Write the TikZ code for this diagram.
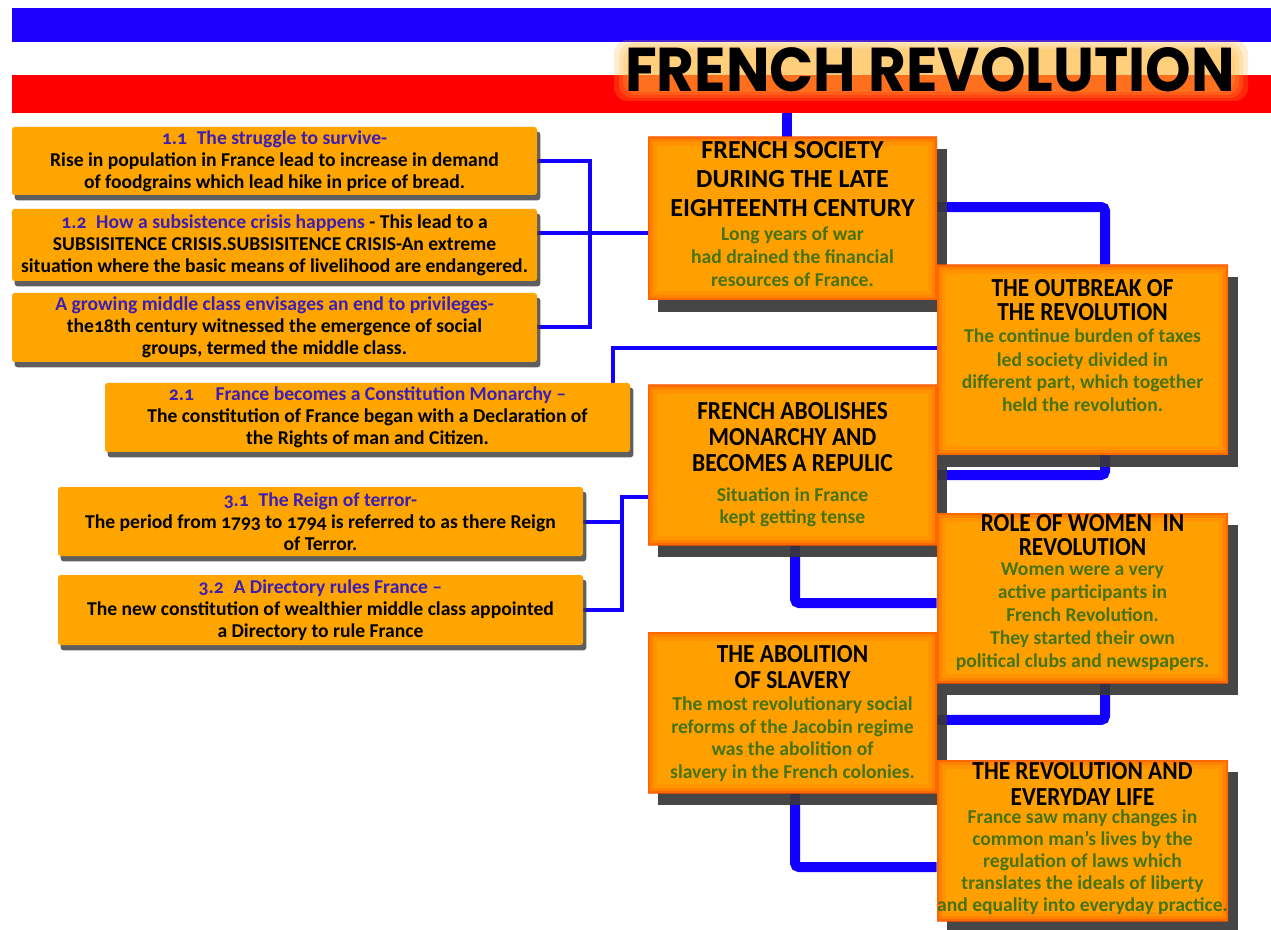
\documentclass[tikz,border=0pt]{standalone}
\usepackage{fontspec}
\usepackage{graphicx}
\setmainfont{Carlito}[Numbers=OldStyle]
\newfontfamily\ttlfont{Poppins}
\usetikzlibrary{calc}
\definecolor{bandblue}{RGB}{30,0,255}
\definecolor{bandred}{RGB}{255,0,0}
\definecolor{boxor}{RGB}{255,165,0}
\definecolor{cfill}{RGB}{255,160,0}
\definecolor{cedge}{RGB}{255,80,0}
\definecolor{hdblue}{RGB}{60,30,180}
\definecolor{txtgreen}{RGB}{70,115,20}
\definecolor{shad}{RGB}{55,55,55}
\definecolor{glowc}{RGB}{255,180,50}
\definecolor{connblue}{RGB}{20,0,255}
\pgfdeclarelayer{bglayer}
\pgfdeclarelayer{connlayer}
\pgfdeclarelayer{shadowlayer}
\pgfsetlayers{bglayer,connlayer,shadowlayer,main}
\newcommand\hd[1]{{\color{hdblue}#1}}
\newcommand\ctitleA[1]{{\color{black}\fontsize{19.5}{21}\selectfont #1}}
\newcommand\ctitle[1]{{\color{black}\fontsize{19.5}{21}\selectfont\scalebox{0.9}[1]{#1}}}
\newcommand\mkline[1]{\hbox to 0pt{\hss\smash{#1}\hss}}
\newcommand\ctext[1]{\vbox{\offinterlineskip #1}}
\newcommand\ttl{\resizebox{457pt}{33pt}{\ttlfont\bfseries FRENCH REVOLUTION}}
\begin{document}
\begin{tikzpicture}[x=0.75pt,y=-0.75pt,
  lbox/.style={fill=boxor, rounded corners=2pt, minimum width=393.75pt, inner sep=0pt,
    align=center, font=\bfseries\fontsize{14.7}{16.5}\selectfont},
  cbox/.style={fill=cfill, inner sep=0pt, text=txtgreen, text depth=0pt,
    font=\bfseries\fontsize{14.7}{16}\selectfont,
    path picture={
      \draw[cedge, line width=14pt, opacity=0.15] (path picture bounding box.south west) rectangle (path picture bounding box.north east);
      \draw[cedge, line width=8pt, opacity=0.25] (path picture bounding box.south west) rectangle (path picture bounding box.north east);
      \draw[cedge, line width=3pt, opacity=0.5] (path picture bounding box.south west) rectangle (path picture bounding box.north east);
    }},
  thinconn/.style={draw=connblue, line width=3pt},
  thickconn/.style={draw=connblue, line width=7.5pt, rounded corners=3pt},
  cshadow/.style={fill=shad, opacity=0.92},
  lshadow/.style={fill=shad, opacity=0.8, rounded corners=2pt},
  glowbox/.style={fill=glowc, opacity=0.22, rounded corners=10pt}
]
\useasboundingbox (0,0) rectangle (1271,930);
\begin{pgfonlayer}{bglayer}
\fill[white] (0,0) rectangle (1271,930);
\fill[bandblue] (12,8) rectangle (1271,42);
\fill[bandred] (12,75) rectangle (1271,113);
\end{pgfonlayer}

% title with glow
\fill[glowbox] (614,40) rectangle (1248,101);
\fill[glowbox] (619,43) rectangle (1243,98);
\fill[glowbox] (623,46) rectangle (1239,95);
\fill[glowbox] (627,49) rectangle (1235,92);
\node[inner sep=0pt] (title) at (930,70) {\ttl};

% left boxes
\node[lbox, minimum height=51pt] (L1) at (274.5,161)
 {\hd{1.1\enspace The struggle to survive-}\\Rise in population in France lead to increase in demand\\of foodgrains which lead hike in price of bread.};
\node[lbox, minimum height=54pt] (L2) at (274.5,245)
 {\hd{1.2\enspace How a subsistence crisis happens} - This lead to a\\SUBSISITENCE CRISIS.SUBSISITENCE CRISIS-An extreme\\situation where the basic means of livelihood are endangered.};
\node[lbox, minimum height=51.75pt] (L3) at (274.5,327.5)
 {\hd{A growing middle class envisages an end to privileges-}\\the18th century witnessed the emergence of social\\groups, termed the middle class.};
\node[lbox, minimum height=51.75pt] (L4) at (367.5,417.5)
 {\hd{2.1\hspace{1.1em}France becomes a Constitution Monarchy –}\\The constitution of France began with a Declaration of\\the Rights of man and Citizen.};
\node[lbox, minimum height=51.75pt] (L5) at (320.5,521.5)
 {\hd{3.1\enspace The Reign of terror-}\\The period from 1793 to 1794 is referred to as there Reign\\of Terror.};
\node[lbox, minimum height=52.5pt] (L6) at (320.5,610)
 {\hd{3.2\enspace A Directory rules France –}\\The new constitution of wealthier middle class appointed\\a Directory to rule France};

% central boxes
\node[cbox, minimum width=216.75pt, minimum height=122.25pt, text height=102.75pt] (C1) at (792.5,218.5)
 {\ctext{\mkline{\ctitleA{FRENCH SOCIETY}}\vskip21.75pt\mkline{\ctitleA{DURING THE LATE}}\vskip21.75pt\mkline{\ctitleA{EIGHTEENTH CENTURY}}\vskip18pt\mkline{Long years of war}\vskip17.25pt\mkline{had drained the financial}\vskip17.25pt\mkline{resources of France.}}};
\node[cbox, minimum width=218.25pt, minimum height=142.5pt, text height=78pt] (C2) at (1082.5,360)
 {\ctext{\mkline{\ctitle{THE OUTBREAK OF}}\vskip18pt\mkline{\ctitle{THE REVOLUTION}}\vskip17.25pt\mkline{The continue burden of taxes}\vskip17.25pt\mkline{led society divided in}\vskip17.25pt\mkline{different part, which together}\vskip17.25pt\mkline{held the revolution.}}};
\node[cbox, minimum width=216.75pt, minimum height=120pt, text height=87pt] (C3) at (792.5,465)
 {\ctext{\mkline{\ctitle{FRENCH ABOLISHES}}\vskip19.5pt\mkline{\ctitle{MONARCHY AND}}\vskip19.5pt\mkline{\ctitle{BECOMES A REPULIC}}\vskip22.5pt\mkline{Situation in France}\vskip16.5pt\mkline{kept getting tense}}};
\node[cbox, minimum width=218.25pt, minimum height=127.5pt, text height=103.5pt] (C4) at (1082.5,598)
 {\ctext{\mkline{\ctitle{ROLE OF WOMEN\ \ IN}}\vskip18pt\mkline{\ctitle{REVOLUTION}}\vskip14.5pt\mkline{Women were a very}\vskip17.25pt\mkline{active participants in}\vskip17.25pt\mkline{French Revolution.}\vskip17.25pt\mkline{They started their own}\vskip17.25pt\mkline{political clubs and newspapers.}}};
\node[cbox, minimum width=218.25pt, minimum height=120.75pt, text height=105.75pt] (C6) at (1082.5,840.5)
 {\ctext{\mkline{\ctitle{THE REVOLUTION AND}}\vskip19pt\mkline{\ctitle{EVERYDAY LIFE}}\vskip13.5pt\mkline{France saw many changes in}\vskip16.5pt\mkline{common man’s lives by the}\vskip16.5pt\mkline{regulation of laws which}\vskip16.5pt\mkline{translates the ideals of liberty}\vskip16.5pt\mkline{and equality into everyday practice.}}};
\node[cbox, minimum width=216.75pt, minimum height=120.75pt, text height=98.25pt] (C5) at (792.5,712.5)
 {\ctext{\mkline{\ctitle{THE ABOLITION}}\vskip19.5pt\mkline{\ctitle{OF SLAVERY}}\vskip16.5pt\mkline{The most revolutionary social}\vskip17.25pt\mkline{reforms of the Jacobin regime}\vskip16.5pt\mkline{was the abolition of}\vskip17.25pt\mkline{slavery in the French colonies.}}};

% shadows
\begin{pgfonlayer}{shadowlayer}
\foreach \n in {C1,C2,C3,C4,C5,C6} {
  \fill[cshadow] ([xshift=7.5pt,yshift=-9pt]\n.north west) rectangle ([xshift=7.5pt,yshift=-9pt]\n.south east);
}
\foreach \n in {L1,L2,L3,L4,L5,L6} {
  \fill[lshadow] ([xshift=2.25pt,yshift=-3.75pt]\n.north west) rectangle ([xshift=2.25pt,yshift=-3.75pt]\n.south east);
}
\end{pgfonlayer}

% connectors
\begin{pgfonlayer}{connlayer}
\coordinate (bandtap) at (787,113);
\draw[thickconn] (bandtap) -- (bandtap |- C1.north);
\coordinate (busA) at (590,245);
\draw[thinconn] (L1.east) -| (busA) |- (L3.east);
\draw[thinconn] ([yshift=9pt]L2.east) -- ([yshift=9pt]L2.east -| C1.west);
\draw[thinconn] ([xshift=-12.75pt]L4.north east) |- ([yshift=9pt]C2.west);
\coordinate (busB) at (622,555);
\draw[thinconn] ([yshift=-24pt]C3.west) -| (busB) |- (L6.east);
\draw[thinconn] (L5.east) -- (L5.east -| busB);
\draw[thickconn] ([yshift=8.6pt]C1.east) -| ([xshift=16.9pt]C2.north);
\draw[thickconn] ([xshift=16.9pt]C2.south) |- ([yshift=-7.5pt]C3.east);
\draw[thickconn] ([xshift=1.9pt]C3.south) |- ([yshift=-3.75pt]C4.west);
\draw[thickconn] ([xshift=16.9pt]C4.south) |- ([yshift=-5.6pt]C5.east);
\draw[thickconn] ([xshift=1.9pt]C5.south) |- ([yshift=-19.9pt]C6.west);
\end{pgfonlayer}
\end{tikzpicture}
\end{document}
